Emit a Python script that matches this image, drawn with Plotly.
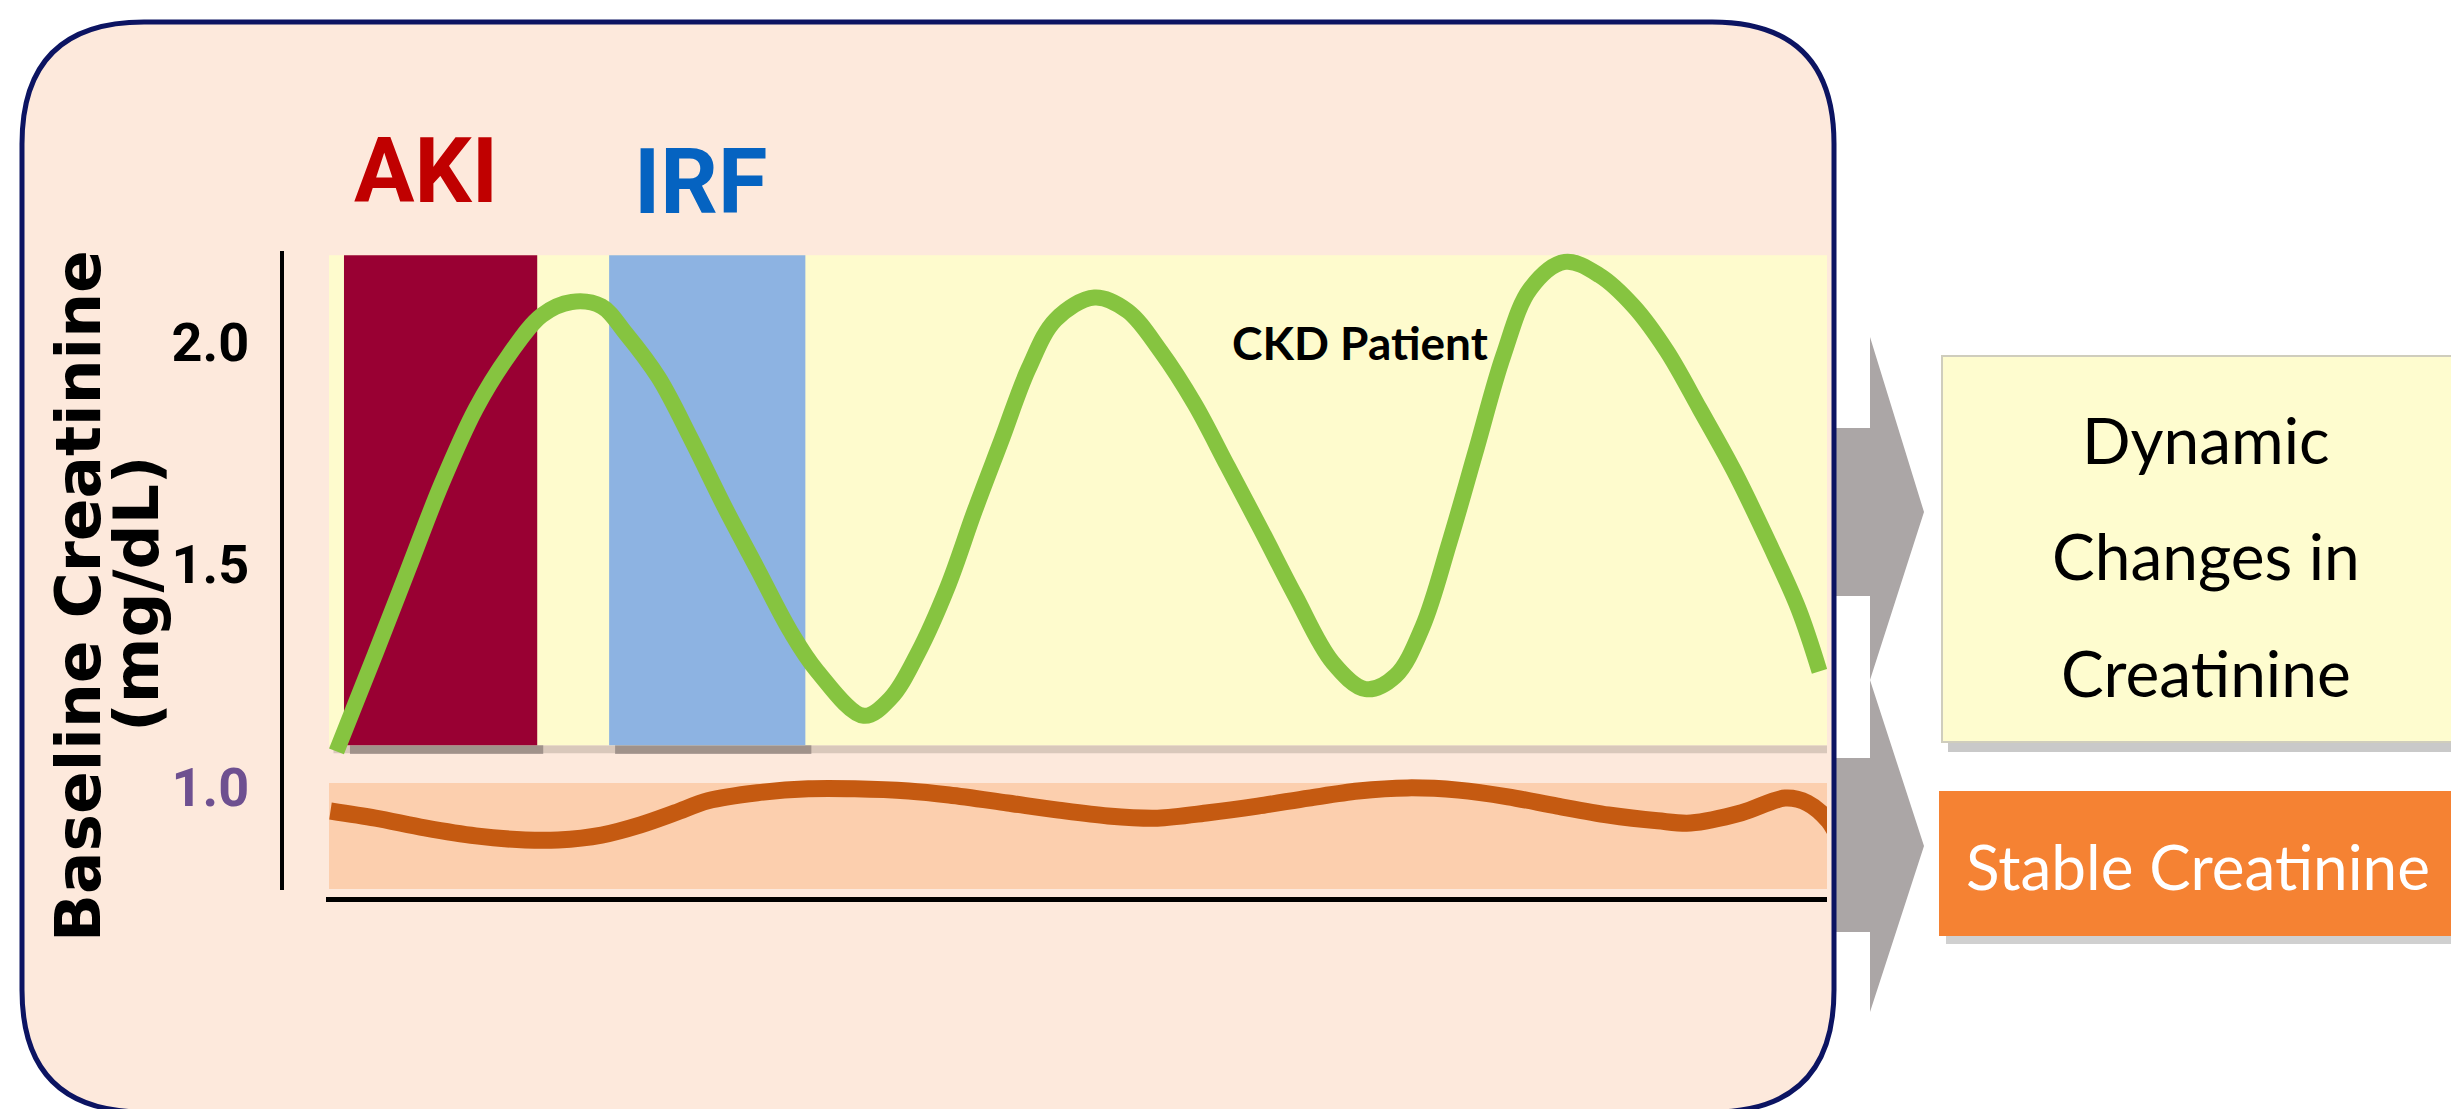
import plotly.graph_objects as go

W, H = 2459, 1109

# ---------------- data ----------------
# time axis is arbitrary (0 .. 100 across the chart)
ckd_time = [0.5, 3.1, 5.3, 7.5, 9.8, 12.0, 14.2, 16.2, 18.2, 19.8, 22.0, 24.2, 26.4, 28.6,
            30.8, 32.6, 35.7, 37.5, 39.3, 41.3, 43.1, 44.9, 46.7, 48.5, 51.1, 53.3,
            55.5, 57.8, 60.0, 62.2, 64.5, 67.0, 69.2, 71.2, 73.0, 74.8, 76.6, 78.4,
            80.2, 82.5, 84.8, 87.1, 89.3, 91.5, 93.8, 96.1, 98.1, 99.5]
ckd_creat = [1.08, 1.30, 1.49, 1.68, 1.85, 1.97, 2.06, 2.09, 2.08, 2.02, 1.92, 1.78, 1.63,
             1.49, 1.35, 1.26, 1.16, 1.20, 1.30, 1.45, 1.62, 1.78, 1.94, 2.05, 2.10,
             2.07, 1.98, 1.86, 1.72, 1.58, 1.43, 1.28, 1.22, 1.25, 1.36, 1.55, 1.76,
             1.97, 2.12, 2.18, 2.15, 2.08, 1.98, 1.85, 1.71, 1.55, 1.40, 1.26]

stable_time = [0.1, 3.1, 6.4, 9.8, 13.1, 15.3, 18.2, 20.8, 23.1, 25.3, 28.6, 32.0, 35.1,
               38.7, 41.4, 45.3, 48.7, 52.0, 55.3, 58.7, 62.0, 65.4, 68.7, 72.0, 75.4,
               78.7, 82.0, 85.4, 88.7, 90.9, 94.3, 97.2, 98.7, 100.1, 100.7]
stable_creat = [0.946, 0.930, 0.908, 0.890, 0.881, 0.881, 0.892, 0.915, 0.942, 0.969,
                0.987, 0.996, 0.996, 0.991, 0.982, 0.964, 0.948, 0.935, 0.930, 0.942,
                0.957, 0.975, 0.991, 0.998, 0.993, 0.978, 0.957, 0.937, 0.924, 0.919,
                0.942, 0.975, 0.964, 0.924, 0.890]

phase_names = ["AKI", "IRF"]
phase_start = [1.0, 18.7]
phase_end = [13.9, 31.8]

ckd_band = [1.094, 2.195]
stable_band = [0.771, 1.009]
band_time = [0.0, 100.0]

ytick_vals = [1.0, 1.5, 2.0]
ytick_text = ["1.0", "1.5", "2.0"]

ckd_label = "CKD Patient"
ckd_label_pos = [68.8, 2.0]
axis_title = ["Baseline Creatinine", "(mg/dL)"]
dynamic_lines = ["Dynamic", "Changes in", "Creatinine"]
stable_text = "Stable Creatinine"

# ---------------- styles ----------------
COND = "Roboto, Liberation Sans, sans-serif"
HUM = "Lato, Roboto, sans-serif"
phase_fill = ["#990033", "#8db3e2"]
phase_text_col = ["#c00000", "#0563c1"]
phase_text_px = [(418, 163), (692, 175)]


def px(x):
    return x / W


def py(y):
    return 1 - y / H


def rounded_path(x0, y0, x1, y1, r):
    rx, ry = r / W, r / H
    X0, X1 = px(x0), px(x1)
    Y0, Y1 = py(y0), py(y1)
    return (f"M {X0+rx},{Y0} L {X1-rx},{Y0} Q {X1},{Y0} {X1},{Y0-ry} "
            f"L {X1},{Y1+ry} Q {X1},{Y1} {X1-rx},{Y1} "
            f"L {X0+rx},{Y1} Q {X0},{Y1} {X0},{Y1+ry} "
            f"L {X0},{Y0-ry} Q {X0},{Y0} {X0+rx},{Y0} Z")


def poly_path(pts):
    return "M " + " L ".join(f"{px(a)},{py(b)}" for a, b in pts) + " Z"


fig = go.Figure()

shapes = []
ARROW = "#aba6a6"
shapes.append(dict(type="path", xref="paper", yref="paper", layer="below",
                   path=poly_path([(1820, 420), (1862, 420), (1862, 329), (1916, 504),
                                   (1862, 672), (1862, 588), (1820, 588)]),
                   fillcolor=ARROW, line=dict(width=0)))
shapes.append(dict(type="path", xref="paper", yref="paper", layer="below",
                   path=poly_path([(1820, 750), (1862, 750), (1862, 672), (1916, 838),
                                   (1862, 1004), (1862, 924), (1820, 924)]),
                   fillcolor=ARROW, line=dict(width=0)))
shapes.append(dict(type="path", xref="paper", yref="paper", layer="below",
                   path=rounded_path(14, 14, 1826, 1104, 122),
                   fillcolor="#fde9dc", line=dict(color="#0c1462", width=5)))

# shadows under the CKD band and phase bars
shapes.append(dict(type="rect", xref="x", yref="y", layer="below",
                   x0=band_time[0] + 0.3, x1=band_time[1], y0=ckd_band[0] - 0.018, y1=ckd_band[0],
                   fillcolor="rgba(150,140,125,0.35)", line=dict(width=0)))
shapes.append(dict(type="rect", xref="x", yref="y", layer="below",
                   x0=band_time[0], x1=band_time[1], y0=ckd_band[0], y1=ckd_band[1],
                   fillcolor="#fefbcd", line=dict(width=0)))
for s, e, c in zip(phase_start, phase_end, phase_fill):
    shapes.append(dict(type="rect", xref="x", yref="y", layer="below",
                       x0=s + 0.4, x1=e + 0.4, y0=ckd_band[0] - 0.02, y1=ckd_band[0],
                       fillcolor="rgba(90,80,80,0.45)", line=dict(width=0)))
    shapes.append(dict(type="rect", xref="x", yref="y", layer="below",
                       x0=s, x1=e, y0=ckd_band[0], y1=ckd_band[1],
                       fillcolor=c, line=dict(width=0)))
shapes.append(dict(type="rect", xref="x", yref="y", layer="below",
                   x0=band_time[0], x1=band_time[1], y0=stable_band[0], y1=stable_band[1],
                   fillcolor="#fccfae", line=dict(width=0)))

# right-hand boxes
shapes.append(dict(type="rect", xref="paper", yref="paper", layer="below",
                   x0=px(1940), x1=px(2470), y0=py(744), y1=py(356),
                   fillcolor="rgba(120,120,120,0.4)", line=dict(width=0)))
shapes.append(dict(type="rect", xref="paper", yref="paper", layer="below",
                   x0=px(1934), x1=px(2470), y0=py(734), y1=py(348),
                   fillcolor="#fefccf", line=dict(color="#cfcdbd", width=2)))
shapes.append(dict(type="rect", xref="paper", yref="paper", layer="below",
                   x0=px(1938), x1=px(2470), y0=py(936), y1=py(791),
                   fillcolor="rgba(120,120,120,0.35)", line=dict(width=0)))
shapes.append(dict(type="rect", xref="paper", yref="paper", layer="below",
                   x0=px(1931), x1=px(2470), y0=py(928), y1=py(783),
                   fillcolor="#f58233", line=dict(width=0)))

# curves
fig.add_trace(go.Scatter(x=stable_time, y=stable_creat, mode="lines",
                         line=dict(color="#c55a11", width=17, shape="spline", smoothing=0.9),
                         cliponaxis=False, hoverinfo="skip"))
fig.add_trace(go.Scatter(x=ckd_time, y=ckd_creat, mode="lines",
                         line=dict(color="#86c440", width=16, shape="spline", smoothing=1.0),
                         cliponaxis=False, hoverinfo="skip"))

ann = []
for name, col, (ax, ay) in zip(phase_names, phase_text_col, phase_text_px):
    ann.append(dict(text=name, xref="paper", yref="paper", x=px(ax), y=py(ay),
                    xanchor="center", yanchor="middle", showarrow=False,
                    font=dict(family=COND, size=90, color=col, weight="bold")))
ann.append(dict(text=ckd_label, xref="x", yref="y", x=ckd_label_pos[0], y=ckd_label_pos[1],
                xanchor="center", yanchor="middle", showarrow=False,
                font=dict(family=HUM, size=46, color="black", weight="bold")))
for t, (ax, ay) in zip(axis_title, [(70, 588), (128, 586)]):
    ann.append(dict(text=t, xref="paper", yref="paper", x=px(ax), y=py(ay), textangle=-90,
                    xanchor="center", yanchor="middle", showarrow=False,
                    font=dict(family="DejaVu Sans, sans-serif", size=63, color="black",
                              weight="bold")))
for t, ay in zip(dynamic_lines, [431, 547, 664]):
    ann.append(dict(text=t, xref="paper", yref="paper", x=px(2198), y=py(ay),
                    xanchor="center", yanchor="middle", showarrow=False,
                    font=dict(family=HUM, size=64, color="black")))
ann.append(dict(text=stable_text, xref="paper", yref="paper", x=px(2190), y=py(858),
                xanchor="center", yanchor="middle", showarrow=False,
                font=dict(family=HUM, size=62, color="white")))

tick_labels = [f'<span style="color:#6e5090">{ytick_text[0]}</span>'] + ytick_text[1:]

fig.update_layout(
    width=W, height=H, margin=dict(l=0, r=0, t=0, b=0),
    paper_bgcolor="white", plot_bgcolor="rgba(0,0,0,0)", showlegend=False,
    shapes=shapes, annotations=ann,
    xaxis=dict(domain=[318 / W, 1819 / W], range=[-0.2, 100.0], anchor="free",
               position=py(891), showline=True, linecolor="black", linewidth=5,
               showgrid=False, zeroline=False, showticklabels=False, ticks="", fixedrange=True),
    yaxis=dict(domain=[py(882), py(243)], range=[0.7685, 2.2045], anchor="free",
               position=px(274), showline=True, linecolor="black", linewidth=4,
               showgrid=False, zeroline=False, ticks="", tickvals=ytick_vals,
               ticktext=tick_labels, ticklabelstandoff=20,
               tickfont=dict(family=COND, size=54, color="black", weight="bold"),
               fixedrange=True),
)

fig.write_html("out.html")
